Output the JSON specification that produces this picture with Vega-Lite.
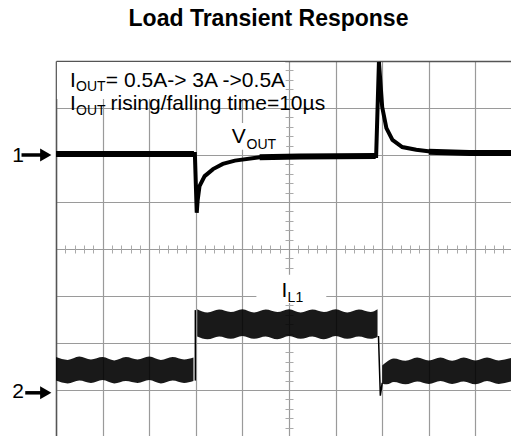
{
  "$schema": "https://vega.github.io/schema/vega-lite/v6.json",
  "width": 455,
  "height": 375,
  "autosize": {"type": "none"},
  "padding": {"left": 56, "top": 61, "right": 0, "bottom": 0},
  "background": "white",
  "title": {"text": "Load Transient Response", "font": "Liberation Sans", "fontSize": 23, "fontWeight": "bold", "color": "black", "anchor": "middle", "frame": "group", "dx": -15, "offset": 5, "baseline": "alphabetic"},
  "config": {"view": {"stroke": null}, "font": "Liberation Sans"},
  "resolve": {"axis": {"x": "independent", "y": "independent"}},
  "datasets": {
    "boxes": [
      {"x": -4.98, "x2": -0.08, "y": 3.98, "y2": 3.19},
      {"x": -1.38, "x2": -0.06, "y": 2.68, "y2": 2.11},
      {"x": -0.70, "x2": 0.80, "y": -0.55, "y2": -1.15}
    ],
    "il": [
      {"seg": 1, "x": -5.00, "lo": -2.80, "hi": -2.30},
      {"seg": 1, "x": -4.75, "lo": -2.86, "hi": -2.36},
      {"seg": 1, "x": -4.50, "lo": -2.80, "hi": -2.29},
      {"seg": 1, "x": -4.25, "lo": -2.85, "hi": -2.35},
      {"seg": 1, "x": -4.00, "lo": -2.79, "hi": -2.30},
      {"seg": 1, "x": -3.75, "lo": -2.86, "hi": -2.37},
      {"seg": 1, "x": -3.50, "lo": -2.81, "hi": -2.30},
      {"seg": 1, "x": -3.25, "lo": -2.85, "hi": -2.35},
      {"seg": 1, "x": -3.00, "lo": -2.79, "hi": -2.29},
      {"seg": 1, "x": -2.75, "lo": -2.86, "hi": -2.36},
      {"seg": 1, "x": -2.50, "lo": -2.80, "hi": -2.30},
      {"seg": 1, "x": -2.25, "lo": -2.85, "hi": -2.35},
      {"seg": 1, "x": -2.05, "lo": -2.81, "hi": -2.31},
      {"seg": 2, "x": -1.97, "lo": -1.86, "hi": -1.28},
      {"seg": 2, "x": -1.75, "lo": -1.92, "hi": -1.35},
      {"seg": 2, "x": -1.50, "lo": -1.86, "hi": -1.29},
      {"seg": 2, "x": -1.25, "lo": -1.91, "hi": -1.34},
      {"seg": 2, "x": -1.00, "lo": -1.85, "hi": -1.28},
      {"seg": 2, "x": -0.75, "lo": -1.91, "hi": -1.35},
      {"seg": 2, "x": -0.50, "lo": -1.86, "hi": -1.29},
      {"seg": 2, "x": -0.25, "lo": -1.92, "hi": -1.34},
      {"seg": 2, "x": 0.00, "lo": -1.85, "hi": -1.28},
      {"seg": 2, "x": 0.25, "lo": -1.91, "hi": -1.35},
      {"seg": 2, "x": 0.50, "lo": -1.86, "hi": -1.29},
      {"seg": 2, "x": 0.75, "lo": -1.92, "hi": -1.34},
      {"seg": 2, "x": 1.00, "lo": -1.85, "hi": -1.28},
      {"seg": 2, "x": 1.25, "lo": -1.91, "hi": -1.35},
      {"seg": 2, "x": 1.50, "lo": -1.86, "hi": -1.29},
      {"seg": 2, "x": 1.75, "lo": -1.91, "hi": -1.34},
      {"seg": 2, "x": 1.90, "lo": -1.87, "hi": -1.28},
      {"seg": 3, "x": 2.00, "lo": -2.86, "hi": -2.48},
      {"seg": 3, "x": 2.10, "lo": -2.88, "hi": -2.40},
      {"seg": 3, "x": 2.25, "lo": -2.83, "hi": -2.33},
      {"seg": 3, "x": 2.50, "lo": -2.88, "hi": -2.38},
      {"seg": 3, "x": 2.75, "lo": -2.82, "hi": -2.31},
      {"seg": 3, "x": 3.00, "lo": -2.87, "hi": -2.37},
      {"seg": 3, "x": 3.25, "lo": -2.81, "hi": -2.31},
      {"seg": 3, "x": 3.50, "lo": -2.87, "hi": -2.38},
      {"seg": 3, "x": 3.75, "lo": -2.82, "hi": -2.31},
      {"seg": 3, "x": 4.00, "lo": -2.88, "hi": -2.37},
      {"seg": 3, "x": 4.25, "lo": -2.81, "hi": -2.31},
      {"seg": 3, "x": 4.50, "lo": -2.87, "hi": -2.37},
      {"seg": 3, "x": 4.77, "lo": -2.82, "hi": -2.32}
    ],
    "iledges": [
      {"e": 1, "x": -2.01, "y": -2.80},
      {"e": 1, "x": -2.01, "y": -1.30},
      {"e": 2, "x": 1.92, "y": -1.85},
      {"e": 2, "x": 1.96, "y": -3.12},
      {"e": 2, "x": 2.00, "y": -2.85}
    ],
    "vout": [
      {"x": -5.00, "y": 2.02},
      {"x": -2.02, "y": 2.02},
      {"x": -1.98, "y": 0.77},
      {"x": -1.96, "y": 1.04},
      {"x": -1.92, "y": 1.34},
      {"x": -1.81, "y": 1.55},
      {"x": -1.63, "y": 1.70},
      {"x": -1.42, "y": 1.81},
      {"x": -1.16, "y": 1.88},
      {"x": -0.63, "y": 1.95},
      {"x": 0.22, "y": 1.97},
      {"x": 1.87, "y": 1.98},
      {"x": 1.93, "y": 3.98},
      {"x": 2.00, "y": 3.02},
      {"x": 2.09, "y": 2.57},
      {"x": 2.22, "y": 2.32},
      {"x": 2.43, "y": 2.17},
      {"x": 2.73, "y": 2.11},
      {"x": 3.16, "y": 2.06},
      {"x": 3.87, "y": 2.04},
      {"x": 4.77, "y": 2.04}
    ],
    "voutflat": [
      {"s": 1, "x": -5.00, "y": 2.02},
      {"s": 1, "x": -2.04, "y": 2.02},
      {"s": 2, "x": -0.63, "y": 1.95},
      {"s": 2, "x": 0.22, "y": 1.97},
      {"s": 2, "x": 1.86, "y": 1.98},
      {"s": 3, "x": 3.00, "y": 2.07},
      {"s": 3, "x": 3.87, "y": 2.04},
      {"s": 3, "x": 4.77, "y": 2.04}
    ],
    "txtmain": [
      {"x": -4.70, "y": 3.45, "t": "I"},
      {"x": -3.93, "y": 3.45, "t": "= 0.5A-> 3A ->0.5A"},
      {"x": -4.70, "y": 2.96, "t": "I"},
      {"x": -3.83, "y": 2.96, "t": "rising/falling time=10µs"},
      {"x": -1.23, "y": 2.255, "t": "V"},
      {"x": -0.16, "y": -1.02, "t": "I"},
      {"x": -5.94, "y": 1.85, "t": "1"},
      {"x": -5.94, "y": -3.17, "t": "2"}
    ],
    "txtsub": [
      {"x": -4.57, "y": 3.36, "t": "OUT"},
      {"x": -4.57, "y": 2.85, "t": "OUT"},
      {"x": -0.91, "y": 2.13, "t": "OUT"},
      {"x": -0.03, "y": -1.13, "t": "L1"}
    ],
    "arrows": [
      {"x": -5.74, "x2": -5.30, "y": 2.0, "hx": -5.22},
      {"x": -5.66, "x2": -5.30, "y": -3.06, "hx": -5.22}
    ]
  },
  "layer": [
    {
      "data": {"name": "boxes"},
      "mark": {"type": "rect", "fill": "white", "stroke": null},
      "encoding": {
        "x": {"field": "x", "type": "quantitative", "scale": {"domain": [-5, 4.764], "nice": false, "zero": false},
          "axis": {"orient": "top", "title": null, "labels": false, "ticks": false, "domain": true, "domainColor": "#555", "domainWidth": 1.5, "grid": true, "gridColor": "#9a9a9a", "gridWidth": 1.2, "values": [-5, -4, -3, -2, -1, 0, 1, 2, 3, 4]}},
        "x2": {"field": "x2"},
        "y": {"field": "y", "type": "quantitative", "scale": {"domain": [-3.979, 4], "nice": false, "zero": false},
          "axis": {"orient": "left", "title": null, "labels": false, "ticks": false, "domain": true, "domainColor": "#555", "domainWidth": 1.5, "grid": true, "gridColor": "#9a9a9a", "gridWidth": 1.2, "values": [-3, -2, -1, 0, 1, 2, 3, 4]}},
        "y2": {"field": "y2"}
      }
    },
    {
      "data": {"name": "il"},
      "mark": {"type": "area", "color": "black", "opacity": 0.9, "interpolate": "monotone"},
      "encoding": {
        "x": {"field": "x", "type": "quantitative",
          "axis": {"orient": "bottom", "offset": -187, "title": null, "labels": false, "domain": false, "grid": false, "ticks": true, "tickSize": 4, "tickColor": "#aaa", "tickWidth": 1, "values": [-4.8, -4.6, -4.4, -4.2, -3.8, -3.6, -3.4, -3.2, -2.8, -2.6, -2.4, -2.2, -1.8, -1.6, -1.4, -1.2, -0.8, -0.6, -0.4, -0.2, 0.2, 0.4, 0.6, 0.8, 1.2, 1.4, 1.6, 1.8, 2.2, 2.4, 2.6, 2.8, 3.2, 3.4, 3.6, 3.8, 4.2, 4.4, 4.6]}},
        "y": {"field": "lo", "type": "quantitative",
          "axis": {"orient": "left", "offset": -233, "title": null, "labels": false, "domain": false, "grid": false, "ticks": true, "tickSize": 4, "tickColor": "#aaa", "tickWidth": 1, "values": [-3.8, -3.6, -3.4, -3.2, -2.8, -2.6, -2.4, -2.2, -1.8, -1.6, -1.4, -1.2, -0.8, -0.6, -0.4, -0.2, 0.2, 0.4, 0.6, 0.8, 1.2, 1.4, 1.6, 1.8, 2.2, 2.4, 2.6, 2.8, 3.2, 3.4, 3.6, 3.8]}},
        "y2": {"field": "hi"},
        "detail": {"field": "seg"}
      }
    },
    {
      "data": {"name": "iledges"},
      "mark": {"type": "line", "color": "black", "strokeWidth": 1.5},
      "encoding": {
        "x": {"field": "x", "type": "quantitative",
          "axis": {"orient": "top", "offset": -188, "title": null, "labels": false, "domain": false, "grid": false, "ticks": true, "tickSize": 4, "tickColor": "#aaa", "tickWidth": 1, "values": [-4.8, -4.6, -4.4, -4.2, -3.8, -3.6, -3.4, -3.2, -2.8, -2.6, -2.4, -2.2, -1.8, -1.6, -1.4, -1.2, -0.8, -0.6, -0.4, -0.2, 0.2, 0.4, 0.6, 0.8, 1.2, 1.4, 1.6, 1.8, 2.2, 2.4, 2.6, 2.8, 3.2, 3.4, 3.6, 3.8, 4.2, 4.4, 4.6]}},
        "y": {"field": "y", "type": "quantitative",
          "axis": {"orient": "right", "offset": -222, "title": null, "labels": false, "domain": false, "grid": false, "ticks": true, "tickSize": 4, "tickColor": "#aaa", "tickWidth": 1, "values": [-3.8, -3.6, -3.4, -3.2, -2.8, -2.6, -2.4, -2.2, -1.8, -1.6, -1.4, -1.2, -0.8, -0.6, -0.4, -0.2, 0.2, 0.4, 0.6, 0.8, 1.2, 1.4, 1.6, 1.8, 2.2, 2.4, 2.6, 2.8, 3.2, 3.4, 3.6, 3.8]}},
        "detail": {"field": "e"}
      }
    },
    {
      "data": {"name": "vout"},
      "mark": {"type": "line", "color": "black", "strokeWidth": 4},
      "encoding": {
        "x": {"field": "x", "type": "quantitative", "axis": null},
        "y": {"field": "y", "type": "quantitative", "axis": null}
      }
    },
    {
      "data": {"name": "voutflat"},
      "mark": {"type": "line", "color": "black", "strokeWidth": 6},
      "encoding": {
        "x": {"field": "x", "type": "quantitative", "axis": null},
        "y": {"field": "y", "type": "quantitative", "axis": null},
        "detail": {"field": "s"}
      }
    },
    {
      "data": {"name": "txtmain"},
      "mark": {"type": "text", "align": "left", "baseline": "alphabetic", "fontSize": 21, "font": "Liberation Sans", "color": "black"},
      "encoding": {
        "x": {"field": "x", "type": "quantitative", "axis": null},
        "y": {"field": "y", "type": "quantitative", "axis": null},
        "text": {"field": "t"}
      }
    },
    {
      "data": {"name": "txtsub"},
      "mark": {"type": "text", "align": "left", "baseline": "alphabetic", "fontSize": 14, "font": "Liberation Sans", "color": "black"},
      "encoding": {
        "x": {"field": "x", "type": "quantitative", "axis": null},
        "y": {"field": "y", "type": "quantitative", "axis": null},
        "text": {"field": "t"}
      }
    },
    {
      "data": {"name": "arrows"},
      "mark": {"type": "rule", "color": "black", "strokeWidth": 3.5},
      "encoding": {
        "x": {"field": "x", "type": "quantitative", "axis": null},
        "x2": {"field": "x2"},
        "y": {"field": "y", "type": "quantitative", "axis": null}
      }
    },
    {
      "data": {"name": "arrows"},
      "mark": {"type": "point", "shape": "triangle-right", "filled": true, "color": "black", "opacity": 1, "size": 170},
      "encoding": {
        "x": {"field": "hx", "type": "quantitative", "axis": null},
        "y": {"field": "y", "type": "quantitative", "axis": null}
      }
    }
  ]
}
